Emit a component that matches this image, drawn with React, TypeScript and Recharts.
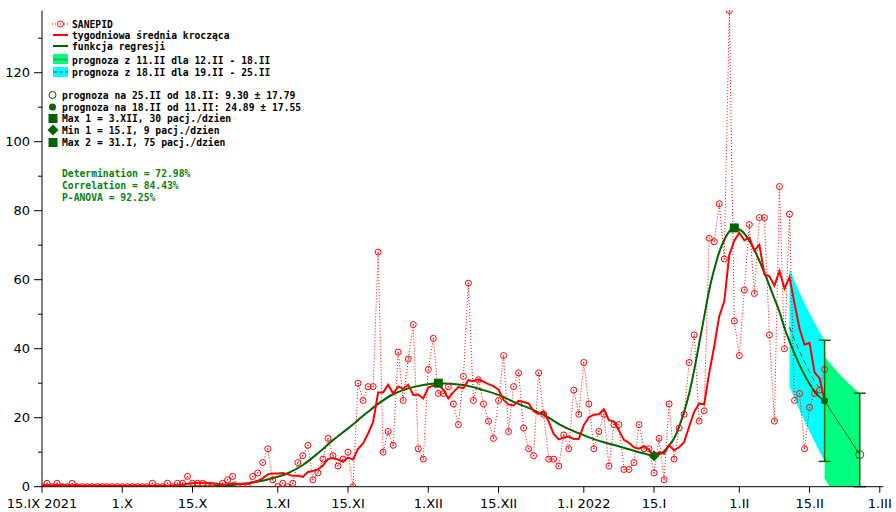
import React from 'react';
import { ComposedChart, Line, Area, Scatter, XAxis, YAxis, ErrorBar } from 'recharts';

// ---------- data (day 0 = 15.IX 2021) ----------
const sanepid = [
  0, 1, 0, 1, 0, 0, 1, 0, 0, 0,
  0, 0, 0, 0, 0, 0, 0, 0, 0, 0,
  0, 0, 1, 0, 0, 1, 0, 1, 1, 3,
  1, 1, 1, 0, 0, 0, 1, 2, 3, 0,
  0, 0, 3, 4, 7, 11, 2, 0, 1, 0,
  1, 7, 9, 12, 2, 4, 8, 14, 9, 6,
  8, 10, 0, 30, 25, 29, 29, 68, 10, 16,
  12, 39, 25, 37, 47, 11, 8, 34, 43, 27,
  27, 29, 24, 18, 32, 59, 25, 31, 24, 19,
  14, 25, 38, 16, 29, 33, 17, 11, 9, 33,
  21, 8, 8, 6, 15, 11, 28, 21, 36, 24,
  11, 16, 21, 6, 18, 18, 5, 5, 7, 18,
  11, 11, 4, 14, 2, 24, 8, 17, 21, 36,
  44, 19, 22, 72, 71, 82, 66, 138, 48, 38,
  57, 76, 56, 78, 78, 44, 19, 87, 40, 79,
  25, 27, 11, 23, 27, 28, 34,
];

const movingAvg = [
  0.3, 0.5, 0.33, 0.5, 0.4, 0.33, 0.43, 0.43, 0.29, 0.29,
  0.3, 0.3, 0.3, 0.3, 0.3, 0.3, 0.3, 0.3, 0.3, 0.3,
  0.3, 0.3, 0.3, 0.3, 0.3, 0.3, 0.3, 0.43, 0.57, 0.86,
  1, 1.14, 1.14, 1.14, 1, 0.86, 0.57, 0.71, 1, 0.86,
  0.86, 0.86, 1.29, 1.71, 2.43, 3.57, 3.86, 3.86, 4, 3.57,
  3.14, 3.14, 2.86, 4.29, 4.57, 5, 6.14, 8, 8.29, 7.86,
  7.29, 8.43, 7.86, 11, 12.57, 15.43, 18.71, 27.29, 27.29, 29.57,
  27, 29, 28.43, 29.57, 26.57, 26.71, 25.57, 28.71, 29.29, 29.57,
  28.14, 25.57, 27.43, 28.86, 28.57, 30.86, 30.57, 31.14, 30.43, 29.71,
  29.14, 28.14, 25.14, 23.86, 23.57, 24.86, 24.57, 24.14, 21.86, 21.14,
  21.86, 18.86, 15.29, 13.71, 14.29, 14.57, 13.86, 13.86, 17.86, 20.14,
  20.86, 21, 22.43, 19.29, 18.86, 16.29, 13.57, 12.71, 11.43, 11,
  11.71, 10.71, 8.71, 10, 9.57, 12, 10.57, 11.43, 12.86, 17.43,
  21.71, 24.14, 23.86, 33, 40.71, 49.43, 53.71, 67.14, 71.29, 73.57,
  71.43, 72.14, 68.43, 70.14, 61.57, 61, 58.29, 62.57, 57.43, 60.71,
  53.14, 45.86, 41.14, 41.71, 33.14, 31.43, 25,
];

const regDays = [0, 20, 30, 34, 38, 42, 45, 49, 52, 55, 58, 61, 63, 65, 67, 70, 73, 76, 79,
  84, 88, 91, 94, 98, 100, 104, 107, 110, 112, 115, 118, 120, 122, 123, 124, 125, 126, 127,
  128, 129, 130, 131, 132, 133, 134, 135, 136, 137, 138, 139, 140, 141, 142, 143, 144, 145,
  146, 147, 148, 149, 150, 151, 152, 153, 154, 155, 156];
const regVals = [0, 0, 0.05, 0.15, 0.5, 1.2, 2.1, 3.9, 6.3, 9.7, 13.5, 16.9, 19.3, 21.7, 24, 26.8, 28.5, 29.5, 30,
  29.5, 28, 26.6, 24.6, 22.2, 20.8, 17.4, 15.5, 13.8, 12.9, 11.7, 10.4, 9.6, 9.0, 9.4, 10.3, 12, 14, 17.4,
  21.7, 27, 33.8, 41.5, 49.3, 57, 63, 68, 71.5, 74, 75, 74.6, 73.4, 71.3, 68.6, 65.5, 62.0, 58.3,
  54.5, 50.7, 46.0, 42.2, 38.6, 35.3, 32.4, 29.8, 27.6, 26.0, 24.89];

const extDays = [156, 157, 158, 159, 160, 161, 162, 163];
const extVals = [24.89, 22.6, 20.4, 18.2, 16.0, 13.8, 11.5, 9.3];

const cyanDays = [149, 150, 151, 152, 153, 154, 155, 156];
const cyanHigh = [63.3, 59.6, 56.3, 53.2, 50.3, 47.5, 44.9, 42.44];
const cyanLow = [29.0, 25.5, 22.2, 19.0, 16.0, 13.0, 10.1, 7.34];
const cyanMidDays = [149, 150, 151, 152, 153, 154, 155];
const cyanMid = [46.2, 42.6, 39.3, 36.2, 33.3, 30.5, 28.5];

const greenDays = [156, 157, 158, 159, 160, 161, 162, 163];
const greenHigh = [37.7, 35.9, 34.2, 32.6, 31.1, 29.7, 28.4, 27.09];
const greenLow = [2.4, 0, 0, 0, 0, 0, 0, 0];

const extremes = [
  { x: 79, y: 30, kind: 'square' },
  { x: 122, y: 9, kind: 'diamond' },
  { x: 138, y: 75, kind: 'square' },
];
const forecast18 = [{ x: 156, y: 24.89, err: 17.55 }];
const forecast25 = [{ x: 163, y: 9.3, err: [9.3, 17.79] }];

const xTicks = [0, 16, 30, 47, 61, 77, 91, 108, 122, 139, 153, 167];
const xTickLabels = ['15.IX 2021', '1.X', '15.X', '1.XI', '15.XI', '1.XII', '15.XII', '1.I 2022', '15.I', '1.II', '15.II', '1.III'];
const yTicks = [0, 10, 20, 30, 40, 50, 60, 70, 80, 90, 100, 110, 120, 130];

// ---------- rows ----------
const sanepidRows = sanepid.map((v, i) => ({ x: i, v }));
const maRows = movingAvg.map((v, i) => ({ x: i, v }));
const regRows = regDays.map((d, i) => ({ x: d, v: regVals[i] }));
const extRows = extDays.map((d, i) => ({ x: d, v: extVals[i] }));
const cyanRows = cyanDays.map((d, i) => ({ x: d, r: [cyanLow[i], cyanHigh[i]] }));
const cyanMidRows = cyanMidDays.map((d, i) => ({ x: d, v: cyanMid[i] }));
const greenRows = greenDays.map((d, i) => ({ x: d, r: [greenLow[i], greenHigh[i]] }));

const RED = '#ff0000';
const DK = '#006400';
const FONT = "'DejaVu Sans', sans-serif";
const MONO = "'DejaVu Sans Mono', monospace";

const SanepidDot = (p: any) => {
  const { cx, cy, index } = p;
  if (cx == null || cy == null) return <g key={`sd-${index}`} />;
  return (
    <g key={`sd-${index}`}>
      <circle cx={cx} cy={cy} r={3} fill="none" stroke={RED} strokeWidth={1} />
      <circle cx={cx} cy={cy} r={0.7} fill={RED} />
    </g>
  );
};

const ExtremeShape = (p: any) => {
  const { cx, cy, payload } = p;
  if (payload.kind === 'diamond') {
    const s = 5.5;
    return <polygon points={`${cx},${cy - s} ${cx + s},${cy} ${cx},${cy + s} ${cx - s},${cy}`} fill={DK} />;
  }
  return <rect x={cx - 4.5} y={cy - 4.5} width={9} height={9} fill={DK} />;
};

const FilledDot = (p: any) => <circle cx={p.cx} cy={p.cy} r={3.5} fill={DK} />;
const HollowDot = (p: any) => <circle cx={p.cx} cy={p.cy} r={4} fill="none" stroke={DK} strokeWidth={1} />;

const YTick = (p: any) => {
  const { x, y, payload } = p;
  const major = payload.value % 20 === 0;
  return (
    <g>
      <line x1={x - (major ? 8 : 4)} x2={x} y1={y} y2={y} stroke="#000" strokeWidth={1} />
      {major && (
        <text x={x - 12} y={y} textAnchor="end" dominantBaseline="central" fontFamily={FONT} fontSize={13} fill="#000">
          {payload.value}
        </text>
      )}
    </g>
  );
};

const Legend = () => {
  const rows = [
    'SANEPID',
    'tygodniowa średnia krocząca',
    'funkcja regresji',
    'prognoza z 11.II dla 12.II - 18.II',
    'prognoza z 18.II dla 19.II - 25.II',
  ];
  const rowY = [24, 35, 46, 60, 72];
  const rows2 = [
    'prognoza na 25.II od 18.II: 9.30 ± 17.79',
    'prognoza na 18.II od 11.II: 24.89 ± 17.55',
    'Max 1 = 3.XII, 30 pacj./dzien',
    'Min 1 = 15.I, 9 pacj./dzien',
    'Max 2 = 31.I, 75 pacj./dzien',
  ];
  const row2Y = [95, 107, 118, 130, 142];
  const stats = ['Determination = 72.98%', 'Correlation = 84.43%', 'P-ANOVA = 92.25%'];
  const statY = [173, 185, 197];
  return (
    <svg width={896} height={512} style={{ position: 'absolute', left: 0, top: 0, pointerEvents: 'none' }}>
      <g fontFamily={MONO} fontWeight="bold" fontSize={9.7}>
        <line x1={52} x2={69} y1={24} y2={24} stroke={RED} strokeDasharray="1 2" />
        <circle cx={60.5} cy={24} r={3} fill="#fff" stroke={RED} />
        <circle cx={60.5} cy={24} r={0.7} fill={RED} />
        <line x1={53} x2={68} y1={35} y2={35} stroke={RED} strokeWidth={2} />
        <line x1={53} x2={68} y1={46} y2={46} stroke={DK} strokeWidth={2} />
        <rect x={53} y={54} width={15} height={10} fill="#00ff80" />
        <line x1={53} x2={68} y1={59.5} y2={59.5} stroke="#2fb85a" strokeWidth={2} />
        <rect x={53} y={67} width={15} height={10} fill="#00ffff" />
        <line x1={53} x2={68} y1={72} y2={72} stroke="#1a9a8a" strokeWidth={1.5} strokeDasharray="4 2" />
        {rows.map((t, i) => (
          <text key={t} x={72} y={rowY[i]} dominantBaseline="central" fill="#000">{t}</text>
        ))}
        <circle cx={52.5} cy={95} r={3.5} fill="none" stroke={DK} />
        <circle cx={52.5} cy={107} r={3.5} fill={DK} />
        <rect x={48.5} y={114} width={9} height={9} fill={DK} />
        <polygon points="53,124.5 58.5,130 53,135.5 47.5,130" fill={DK} />
        <rect x={48.5} y={138} width={9} height={9} fill={DK} />
        {rows2.map((t, i) => (
          <text key={t} x={62} y={row2Y[i]} dominantBaseline="central" fill="#000">{t}</text>
        ))}
        {stats.map((t, i) => (
          <text key={t} x={62} y={statY[i]} dominantBaseline="central" fill="#0a7f0a">{t}</text>
        ))}
      </g>
    </svg>
  );
};

export default function App() {
  return (
    <div style={{ position: 'absolute', left: 0, top: 0, width: 896, height: 512, background: '#fff' }}>
      <ComposedChart width={896} height={512} margin={{ top: 10.6, right: 12.7, bottom: 0, left: 0 }}>
        <XAxis
          dataKey="x"
          type="number"
          domain={[0, 167.7]}
          allowDataOverflow
          ticks={xTicks}
          interval={0}
          tickFormatter={(v: number) => xTickLabels[xTicks.indexOf(v)] ?? ''}
          height={25.3}
          tickSize={6}
          tickMargin={6.3}
          axisLine={{ stroke: '#000', strokeWidth: 1 }}
          tickLine={{ stroke: '#000', strokeWidth: 1 }}
          tick={{ fontFamily: FONT, fontSize: 13, fill: '#000' }}
        />
        <YAxis
          type="number"
          domain={[0, 138]}
          allowDataOverflow
          ticks={yTicks}
          interval={0}
          width={42}
          tickSize={0}
          tickMargin={0}
          tickLine={false}
          axisLine={{ stroke: '#000', strokeWidth: 1 }}
          tick={YTick}
        />
        <Area data={cyanRows} dataKey="r" type="linear" fill="#00ffff" fillOpacity={1} stroke="none" isAnimationActive={false} />
        <Area data={greenRows} dataKey="r" type="linear" fill="#00ff80" fillOpacity={1} stroke="none" isAnimationActive={false} />
        <Line data={sanepidRows} dataKey="v" type="linear" stroke={RED} strokeWidth={1} strokeDasharray="1 2"
          dot={SanepidDot} activeDot={false} isAnimationActive={false} />
        <Line data={regRows} dataKey="v" type="monotone" stroke={DK} strokeWidth={2} dot={false} activeDot={false} isAnimationActive={false} />
        <Line data={extRows} dataKey="v" type="monotone" stroke={DK} strokeWidth={1} dot={false} activeDot={false} isAnimationActive={false} />
        <Line data={maRows} dataKey="v" type="linear" stroke={RED} strokeWidth={2} dot={false} activeDot={false} isAnimationActive={false} />
        <Line data={cyanMidRows} dataKey="v" type="linear" stroke={DK} strokeWidth={1} strokeDasharray="5 4" dot={false} activeDot={false} isAnimationActive={false} />
        <Scatter data={forecast18} dataKey="y" shape={FilledDot} isAnimationActive={false}>
          <ErrorBar dataKey="err" direction="y" width={6} stroke={DK} strokeWidth={1.5} />
        </Scatter>
        <Scatter data={forecast25} dataKey="y" shape={HollowDot} isAnimationActive={false}>
          <ErrorBar dataKey="err" direction="y" width={6} stroke={DK} strokeWidth={1.5} />
        </Scatter>
        <Scatter data={extremes} dataKey="y" shape={ExtremeShape} isAnimationActive={false} />
      </ComposedChart>
      <Legend />
    </div>
  );
}
